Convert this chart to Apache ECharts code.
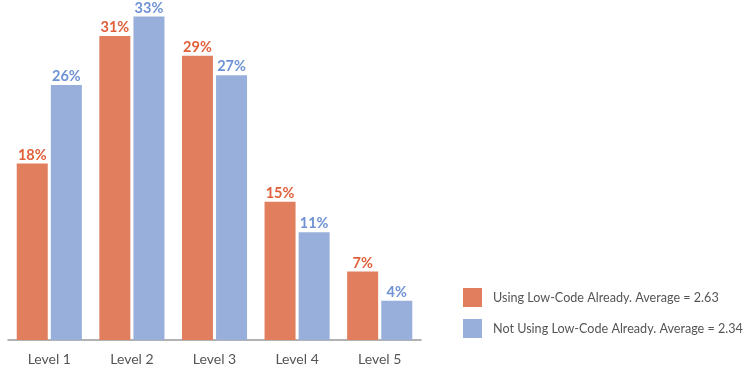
<!DOCTYPE html>
<html><head><meta charset="utf-8">
<script src="https://cdn.jsdelivr.net/npm/echarts@6/dist/echarts.min.js"></script>
<style>html,body{margin:0;padding:0;background:#fff}#c{width:750px;height:373px}</style>
</head><body><div id="c"></div>
<script>
const categories = ['Level 1','Level 2','Level 3','Level 4','Level 5'];
// bar heights as drawn in the picture
const usingValues = [18, 31, 29, 14.1, 7];
const notUsingValues = [26, 33, 27, 11, 4];
// labels as printed in the picture
const usingLabels = ['18%','31%','29%','15%','7%'];
const notUsingLabels = ['26%','33%','27%','11%','4%'];
const seriesNames = ['Using Low-Code Already. Average = 2.63','Not Using Low-Code Already. Average = 2.34'];

const chart = echarts.init(document.getElementById('c'));
const font = 'Lato, "Noto Sans", sans-serif';
chart.setOption({
  animation:false,
  grid:{left:8,right:329,top:16.5,bottom:33},
  legend:{
    orient:'vertical', left:463, top:288, padding:0, itemWidth:19, itemHeight:19, itemGap:12,
    icon:'rect',
    textStyle:{color:'#555', fontSize:12.6, fontFamily:font, padding:[0,0,0,6]},
    data:seriesNames
  },
  xAxis:{
    type:'category', data:categories,
    axisLine:{lineStyle:{color:'#999', width:1.5}},
    axisTick:{show:false},
    axisLabel:{color:'#555', fontSize:14, fontFamily:font, margin:12}
  },
  yAxis:{type:'value', min:0, max:33, show:false, splitLine:{show:false}},
  series:[
    {name:seriesNames[0], type:'bar', data:usingValues, barWidth:31, barGap:'10%',
     itemStyle:{color:'#E07E5E'},
     label:{show:true, position:'top', distance:1, formatter:p=>usingLabels[p.dataIndex], color:'#E0603A', fontWeight:'bold', fontSize:14.5, fontFamily:font}},
    {name:seriesNames[1], type:'bar', data:notUsingValues, barWidth:31,
     itemStyle:{color:'#98AFDB'},
     label:{show:true, position:'top', distance:1, formatter:p=>notUsingLabels[p.dataIndex], color:'#6E92D4', fontWeight:'bold', fontSize:14.5, fontFamily:font}}
  ]
});
</script></body></html>
